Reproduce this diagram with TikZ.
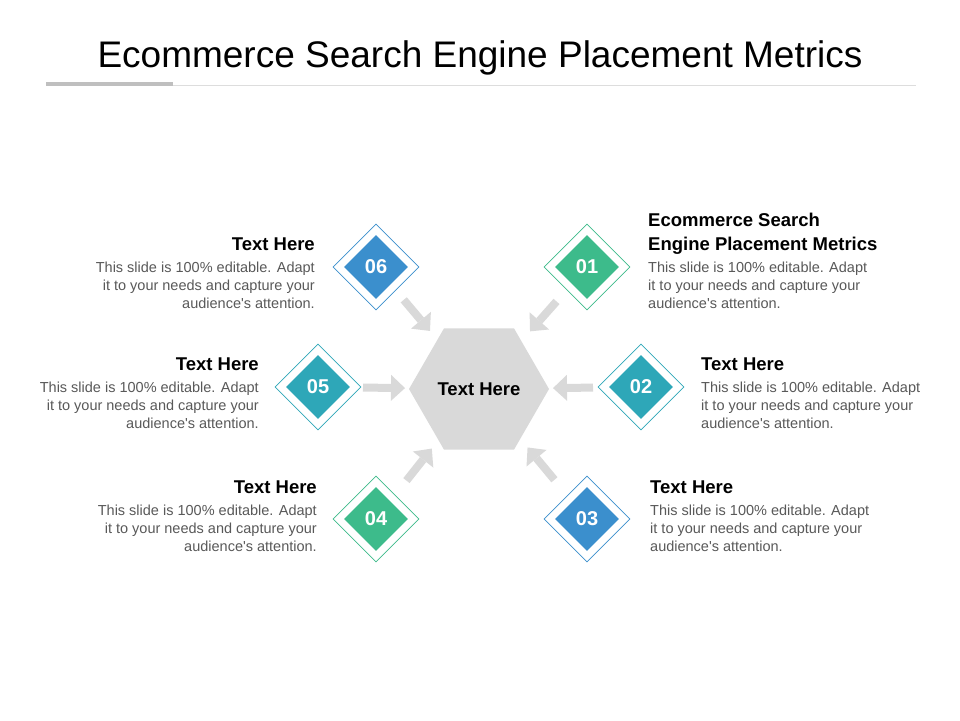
\documentclass[tikz,border=0pt]{standalone}
\usepackage{fontspec}
\setmainfont{Liberation Sans}
\usetikzlibrary{shapes.geometric,arrows.meta}
\definecolor{cblue}{HTML}{3B8FCD}
\definecolor{cgreen}{HTML}{3DBB8B}
\definecolor{cteal}{HTML}{2EA7B8}
\definecolor{hexgray}{HTML}{D9D9D9}
\definecolor{arrowgray}{HTML}{D9D9D9}
\definecolor{bodygray}{HTML}{595959}
\definecolor{rulegray}{HTML}{BFBFBF}
\definecolor{rulelight}{HTML}{DDDDDD}
\begin{document}
\begin{tikzpicture}[x=1pt,y=-1pt,
  outerd/.style={diamond, draw=#1, line width=0.8pt, fill=white, minimum width=86pt, minimum height=86pt, inner sep=0pt},
  innerd/.style={diamond, fill=#1, minimum width=64pt, minimum height=64pt, inner sep=0pt, text=white, font=\fontsize{20}{24}\selectfont\bfseries},
  ttl/.style={font=\fontsize{18.5}{23.3}\selectfont\bfseries, inner sep=0pt, text=black},
  body/.style={font=\fontsize{14.5}{18}\selectfont, inner sep=0pt, text=bodygray},
  barrow/.style={draw=arrowgray, line width=8pt, -{Triangle[width=26pt,length=14pt,line width=0pt]}},
  hexa/.style={regular polygon, regular polygon sides=6, minimum size=140pt, inner sep=0pt, fill=hexgray, font=\fontsize{18.5}{22}\selectfont\bfseries}
]
\useasboundingbox (0,0) rectangle (960,720);
\fill[white] (0,0) rectangle (960,720);

% title
\node[font=\fontsize{37}{44}\selectfont, anchor=base, inner sep=0pt] (title) at (480,67) {Ecommerce Search Engine Placement Metrics};
\coordinate (r1) at (46,84);
\coordinate (r2) at (173,84);
\coordinate (r3) at (916,85);
\draw[rulelight, line width=1pt] (r2 |- r3) -- (r3);
\draw[rulegray, line width=3.5pt] (r1) -- (r2);

% hexagon
\node[hexa] (hex) at (479,389) {Text Here};

% diamonds
\node[outerd=cblue]  (o06) at (376,267) {};
\node[innerd=cblue]  (d06) at (376,267) {06};
\node[outerd=cgreen] (o01) at (587,267) {};
\node[innerd=cgreen] (d01) at (587,267) {01};
\node[outerd=cteal]  (o05) at (318,387) {};
\node[innerd=cteal]  (d05) at (318,387) {05};
\node[outerd=cteal]  (o02) at (641,387) {};
\node[innerd=cteal]  (d02) at (641,387) {02};
\node[outerd=cgreen] (o04) at (376,519) {};
\node[innerd=cgreen] (d04) at (376,519) {04};
\node[outerd=cblue]  (o03) at (587,519) {};
\node[innerd=cblue]  (d03) at (587,519) {03};

% arrows
\draw[barrow, shorten <=43pt, shorten >=76pt] (d06.center) -- (hex.center);
\draw[barrow, shorten <=46pt, shorten >=77pt] (d01.center) -- (hex.center);
\draw[barrow, shorten <=45pt, shorten >=74pt] (d05.center) -- (hex.center);
\draw[barrow, shorten <=48pt, shorten >=74pt] (d02.center) -- (hex.center);
\draw[barrow, shorten <=49pt, shorten >=76pt] (d04.center) -- (hex.center);
\draw[barrow, shorten <=51pt, shorten >=76pt] (d03.center) -- (hex.center);

% text blocks
\node[ttl, anchor=base east] (t06) at (315,250.7) {Text Here};
\node[body, anchor=base east] (b06) at (315,272.7) {\begin{tabular}[t]{@{}r@{}}This slide is 100\% editable. Adapt\\it to your needs and capture your\\audience\textquotesingle s attention.\end{tabular}};

\node[ttl, anchor=base east] (t05) at (259,370.7) {Text Here};
\node[body, anchor=base east] (b05) at (259,392.7) {\begin{tabular}[t]{@{}r@{}}This slide is 100\% editable. Adapt\\it to your needs and capture your\\audience\textquotesingle s attention.\end{tabular}};

\node[ttl, anchor=base east] (t04) at (317,493.7) {Text Here};
\node[body, anchor=base east] (b04) at (317,515.7) {\begin{tabular}[t]{@{}r@{}}This slide is 100\% editable. Adapt\\it to your needs and capture your\\audience\textquotesingle s attention.\end{tabular}};

\node[ttl, anchor=base west] (t01) at (648,226.7) {\begin{tabular}[t]{@{}l@{}}Ecommerce Search\\Engine Placement Metrics\end{tabular}};
\node[body, anchor=base west] (b01) at (648,272.7) {\begin{tabular}[t]{@{}l@{}}This slide is 100\% editable. Adapt\\it to your needs and capture your\\audience\textquotesingle s attention.\end{tabular}};

\node[ttl, anchor=base west] (t02) at (701,370.7) {Text Here};
\node[body, anchor=base west] (b02) at (701,392.7) {\begin{tabular}[t]{@{}l@{}}This slide is 100\% editable. Adapt\\it to your needs and capture your\\audience\textquotesingle s attention.\end{tabular}};

\node[ttl, anchor=base west] (t03) at (650,493.7) {Text Here};
\node[body, anchor=base west] (b03) at (650,515.7) {\begin{tabular}[t]{@{}l@{}}This slide is 100\% editable. Adapt\\it to your needs and capture your\\audience\textquotesingle s attention.\end{tabular}};
\end{tikzpicture}
\end{document}
